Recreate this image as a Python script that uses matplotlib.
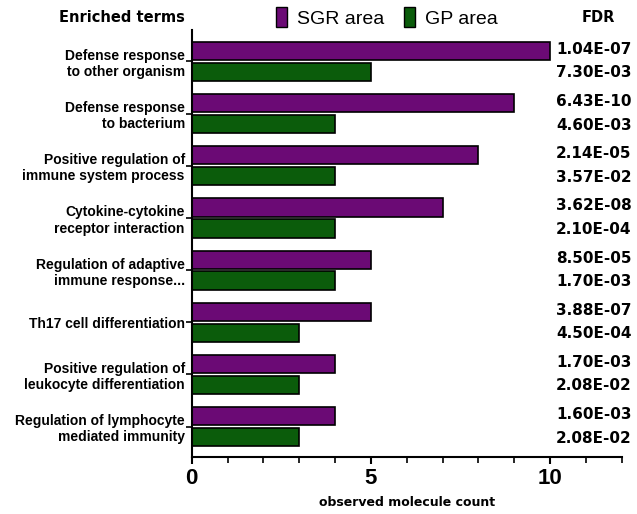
import matplotlib
matplotlib.use('Agg')
import numpy as np
import matplotlib.pyplot as plt
from matplotlib.patches import Patch
from matplotlib.ticker import MultipleLocator

# 数据
terms = [
    'Defense response\nto other organism',
    'Defense response\nto bacterium',
    'Positive regulation of\nimmune system process',
    'Cytokine-cytokine\nreceptor interaction',
    'Regulation of adaptive\nimmune response...',
    'Th17 cell differentiation',
    'Positive regulation of\nleukocyte differentiation',
    'Regulation of lymphocyte\nmediated immunity',
]
sgr_counts = [10, 9, 8, 7, 5, 5, 4, 4]
gp_counts = [5, 4, 4, 4, 4, 3, 3, 3]
sgr_fdr = ['1.04E-07', '6.43E-10', '2.14E-05', '3.62E-08', '8.50E-05', '3.88E-07', '1.70E-03', '1.60E-03']
gp_fdr = ['7.30E-03', '4.60E-03', '3.57E-02', '2.10E-04', '1.70E-03', '4.50E-04', '2.08E-02', '2.08E-02']

purple = '#6b0a75'
green = '#0b5c0b'
arial = 'Liberation Sans'

fig = plt.figure(figsize=(6.37, 5.14), dpi=100)
ax = fig.add_axes([0.301, 0.1115, 0.675, 0.830])

y = np.arange(len(terms))
h = 0.35
off = 0.2
ax.barh(y - off, sgr_counts, height=h, color=purple, edgecolor='black', linewidth=1.2)
ax.barh(y + off, gp_counts, height=h, color=green, edgecolor='black', linewidth=1.2)

ax.set_ylim(7.575, -0.6)
ax.set_xlim(0, 12)
ax.set_yticks(y)
ax.set_yticklabels(terms, fontsize=10, fontweight='bold', family=arial, ha='right', linespacing=1.2)
ax.tick_params(axis='y', length=4, width=1.2, pad=1)
ax.xaxis.set_major_locator(MultipleLocator(5))
ax.xaxis.set_minor_locator(MultipleLocator(1))
ax.tick_params(axis='x', which='major', length=5, width=1.5, labelsize=16, pad=3)
ax.tick_params(axis='x', which='minor', length=4, width=1.2)
for lab in ax.get_xticklabels():
    lab.set_fontweight('bold')
    lab.set_family(arial)
ax.set_xlabel('observed molecule count', fontsize=9, fontweight='bold', labelpad=5)

for s in ['top', 'right']:
    ax.spines[s].set_visible(False)
for s in ['left', 'bottom']:
    ax.spines[s].set_linewidth(1.5)

# FDR 值
for i in range(len(terms)):
    ax.text(12.28, i - off - 0.03, sgr_fdr[i], ha='right', va='center',
            fontsize=11, fontweight='bold', clip_on=False)
    ax.text(12.28, i + off + 0.02, gp_fdr[i], ha='right', va='center',
            fontsize=11, fontweight='bold', clip_on=False)

fig.text(0.290, 0.966, 'Enriched terms', ha='right', va='center', fontsize=10.5, fontweight='bold')
fig.text(0.940, 0.966, 'FDR', ha='center', va='center', fontsize=10.5, fontweight='bold')

handles = [Patch(facecolor=purple, edgecolor='black'), Patch(facecolor=green, edgecolor='black')]
fig.legend(handles, ['SGR area', 'GP area'], loc='center', bbox_to_anchor=(0.607, 0.966),
           ncol=2, frameon=False, prop={'family': arial, 'size': 14}, handlelength=0.6,
           handleheight=1.2, handletextpad=0.5, columnspacing=1.0, borderaxespad=0)

plt.savefig('out.png', dpi=100)
plt.close()
